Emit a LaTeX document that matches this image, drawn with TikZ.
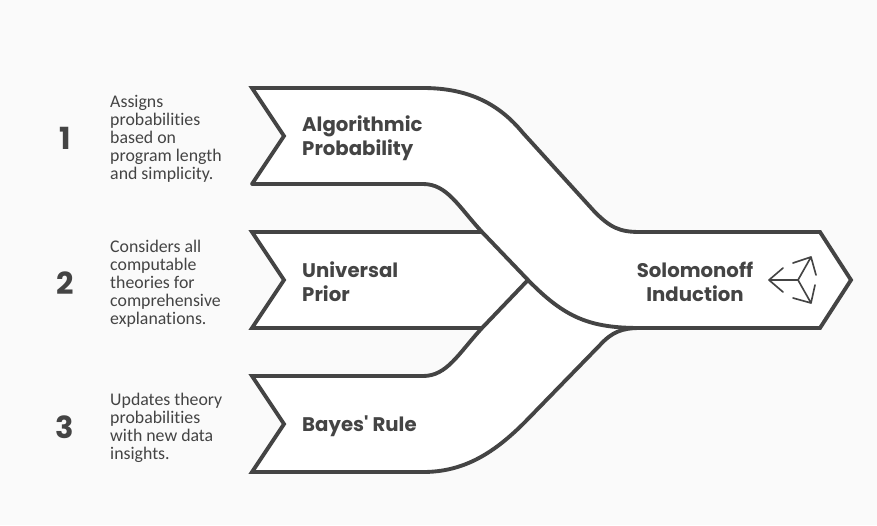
\documentclass[tikz,border=0pt]{standalone}
\usepackage{fontspec}
\setmainfont{Carlito}[Ligatures=NoCommon]
\newfontfamily\headfont{Poppins}
\usepackage{xcolor}
\usepackage{tikz}
\usetikzlibrary{positioning,calc}
\definecolor{inkgray}{HTML}{444444}
\definecolor{paper}{HTML}{FAFAFA}
\tikzset{
  band/.style={fill=white,draw=none},
  edge/.style={draw=inkgray,line width=3.3pt,line join=miter,line cap=round},
  note/.style={font=\fontsize{15.2}{15.4}\selectfont,text=inkgray,align=left,anchor=west,inner sep=0pt},
  title/.style={font=\headfont\bfseries\fontsize{16.8}{20.5}\selectfont,text=inkgray,inner sep=0pt},
  num/.style={font=\headfont\bfseries\fontsize{26}{26}\selectfont,text=inkgray,inner sep=0pt},
}
\begin{document}
\begin{tikzpicture}[x=0.03cm,y=-0.03cm]
  \useasboundingbox (0,0) rectangle (877,525);
  \fill[paper] (0,0) rectangle (877,525);
  % outline points
  \coordinate (A1) at (252,88);
  \coordinate (A2) at (284,136);
  \coordinate (A3) at (252,184);
  \coordinate (B1) at (252,232);
  \coordinate (B2) at (284,280);
  \coordinate (B3) at (252,328);
  \coordinate (C1) at (252,376);
  \coordinate (C2) at (284,424);
  \coordinate (C3) at (252,472);
  \coordinate (J) at (528,280);
  \coordinate (T1) at (482,232);
  \coordinate (T2) at (482,328);
  \coordinate (S1) at (820,232);
  \coordinate (S2) at (851,280);
  \coordinate (S3) at (820,328);
  % white bands
  \fill[band] (A1) -- (423,88) .. controls (470,88) and (500,105) .. (523,133) -- (593,210)
    .. controls (610,228) and (620,232) .. (640,232) -- (S1) -- (S2) -- (S3) -- (640,328)
    .. controls (622,328) and (612,332) .. (600,345) -- (560,387) -- (525,422)
    .. controls (495,452) and (465,472) .. (423,472) -- (C3) -- (C2) -- (C1) -- (423,376)
    .. controls (447,376) and (458,354) .. (T2) -- (B3) -- (B2) -- (B1) -- (T1)
    .. controls (458,206) and (447,184) .. (423,184) -- (A3) -- (A2) -- cycle;
  % edges
  \draw[edge] (A3) -- (A2) -- (A1) -- (423,88) .. controls (470,88) and (500,105) .. (523,133) -- (593,210)
    .. controls (610,228) and (620,232) .. (640,232) -- (S1) -- (S2) -- (S3) -- (640,328);
  \draw[edge] (A3) -- (423,184) .. controls (447,184) and (458,206) .. (T1) -- (J)
    .. controls (565,318) and (590,328) .. (640,328);
  \draw[edge] (T1) -- (B1) -- (B2) -- (B3) -- (T2);
  \draw[edge] (J) -- (T2) .. controls (458,354) and (447,376) .. (423,376) -- (C1) -- (C2) -- (C3) -- (423,472)
    .. controls (465,472) and (495,452) .. (525,422) -- (600,345) .. controls (612,332) and (622,328) .. (640,328);
  % labels
  \node[title,align=left,anchor=west] (algo) at (302,138) {Algorithmic\\Probability};
  \node[title,align=left,anchor=west] (prior) at (302,282) {Universal\\Prior};
  \node[title,anchor=west] (bayes) at (302,426) {Bayes' Rule};
  \node[title,align=center] (solo) at (695,282) {Solomonoff\\Induction};
  \foreach \y/\n in {138/1,283/2,427/3} {\node[num] (num\n) at (65,\y) {\n};}
  \node[note] (noteA) at (110,139) {Assigns\\probabilities\\based on\\program length\\and simplicity.};
  \node[note] (noteB) at (110,283.5) {Considers all\\computable\\theories for\\comprehensive\\explanations.};
  \node[note] (noteC) at (110,428) {Updates theory\\probabilities\\with new data\\insights.};
  % icon
  \coordinate (I) at (798,280);
  \draw[draw=inkgray,line width=1.4pt,line cap=round,line join=round]
    (I) -- (769,280) (783,268) -- (769,280) -- (783,292)
    (I) -- (811,257) (793,263) -- (811,257) -- (816,275)
    (I) -- (811,303) (793,298) -- (811,303) -- (815,285);
\end{tikzpicture}
\end{document}
